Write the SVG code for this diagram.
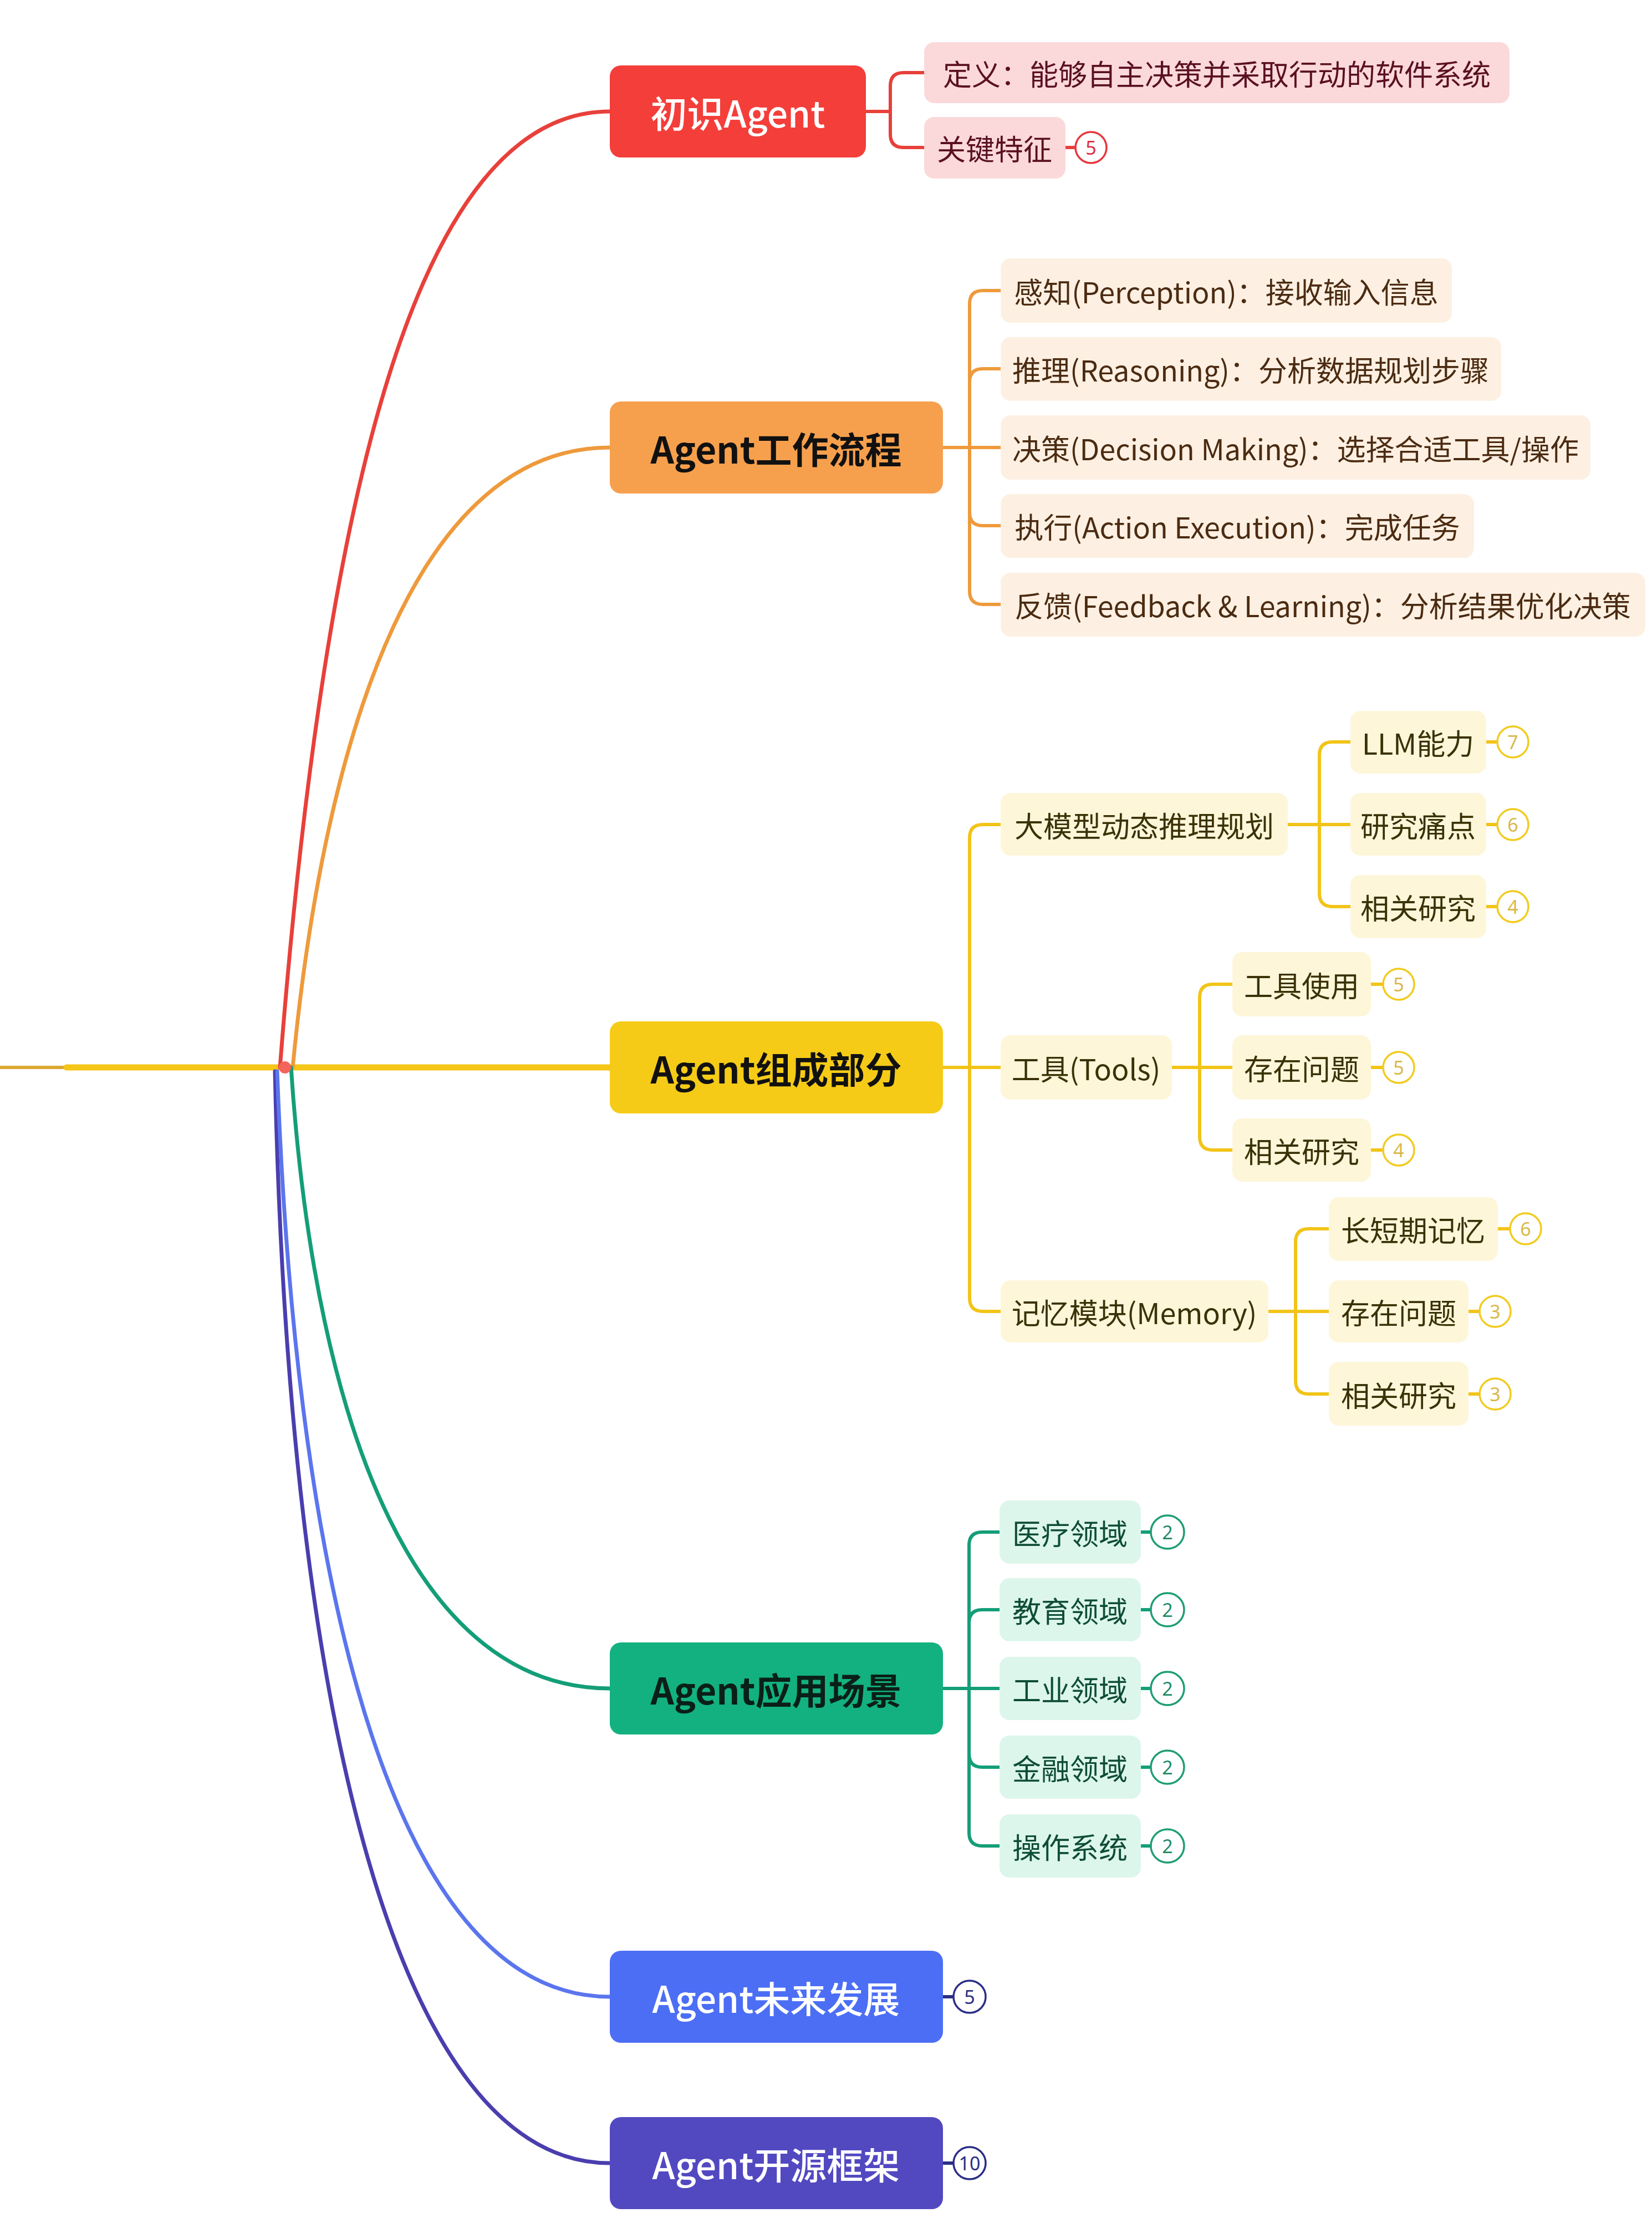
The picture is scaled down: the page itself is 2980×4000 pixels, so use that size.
<svg xmlns="http://www.w3.org/2000/svg" width="2980" height="4000" viewBox="0 0 2980 4000">
<style>
text { font-family: "Noto Sans CJK SC", "Noto Sans", sans-serif; dominant-baseline: central; text-anchor: middle; }
.mt { font-size: 66px; font-weight: 500; }
.mtd { font-weight: 700; }
.ct { font-size: 52px; }
.bt { font-size: 34px; font-family: "Noto Sans", "Liberation Sans", sans-serif; }
.badge { fill: #ffffff; stroke-width: 3.5; }
.r .cb { fill: #FBD9DA; } .r .ct { fill: #5A1020; }
.o .cb { fill: #FDF0E2; } .o .ct { fill: #4B2B12; }
.y .cb { fill: #FEF6D9; } .y .ct { fill: #3A3206; }
.g .cb { fill: #DDF6EB; } .g .ct { fill: #0E4D36; }
.r .badge { stroke: #E8363C; } .r .bt { fill: #D8303A; }
.y .badge { stroke: #F2CB20; } .y .bt { fill: #D9B84A; }
.g .badge { stroke: #1E9E74; } .g .bt { fill: #1E8A66; }
.b .badge { stroke: #2B2E86; } .b .bt { fill: #2B2E86; }
.lr { stroke: #E8403A; } .lo { stroke: #EE9A3C; } .ly { stroke: #F2C418; } .lg { stroke: #149E78; } .lb { stroke: #2B2E86; }
</style>

<g id="connectors" fill="none" stroke-width="6" stroke-linecap="round" stroke-linejoin="round">
  <path d="M0,1925 H120" stroke="#D9A830" stroke-width="6"/>
  <path d="M120,1925 H1100" stroke="#F5C518" stroke-width="11"/>
  <path d="M505,1925 C585,900 750,201 1100,201" stroke="#E8403A" stroke-width="7"/>
  <path d="M528,1925 C588,1300 760,807 1100,807" stroke="#EE9A3C" stroke-width="7"/>
  <path d="M525,1925 C570,2600 760,3045 1100,3045" stroke="#149E78" stroke-width="7"/>
  <path d="M496,1932 C520,3100 720,3901 1100,3901" stroke="#4A3EAE" stroke-width="7"/>
  <path d="M500,1932 C535,2900 720,3601 1100,3601" stroke="#5B75EE" stroke-width="7"/>
  <circle cx="514" cy="1925" r="11" fill="#F5645A" stroke="none"/>

  <g class="lr">
    <path d="M1562,201 H1606 V155 Q1606,131 1630,131 H1667"/>
    <path d="M1562,201 H1606 V242 Q1606,266 1630,266 H1667"/>
    <path d="M1922,266 H1940"/>
  </g>
  <g class="lo">
    <path d="M1701,807 H1749 V548 Q1749,524 1773,524 H1805"/>
    <path d="M1701,807 H1749 V689 Q1749,665 1773,665 H1805"/>
    <path d="M1701,807 H1805"/>
    <path d="M1701,807 H1749 V924 Q1749,948 1773,948 H1805"/>
    <path d="M1701,807 H1749 V1066 Q1749,1090 1773,1090 H1805"/>
  </g>
  <g class="ly">
    <path d="M1701,1925 H1749 V1511 Q1749,1487 1773,1487 H1805"/>
    <path d="M1701,1925 H1805"/>
    <path d="M1701,1925 H1749 V2341 Q1749,2365 1773,2365 H1805"/>
    <path d="M2323,1487 H2380 V1362 Q2380,1338 2404,1338 H2436"/>
    <path d="M2323,1487 H2436"/>
    <path d="M2323,1487 H2380 V1611 Q2380,1635 2404,1635 H2436"/>
    <path d="M2114,1925 H2164 V1799 Q2164,1775 2188,1775 H2223"/>
    <path d="M2114,1925 H2223"/>
    <path d="M2114,1925 H2164 V2050 Q2164,2074 2188,2074 H2223"/>
    <path d="M2288,2365 H2337 V2240 Q2337,2216 2361,2216 H2397"/>
    <path d="M2288,2365 H2397"/>
    <path d="M2288,2365 H2337 V2490 Q2337,2514 2361,2514 H2397"/>
    <path d="M2681,1338 H2701"/>
    <path d="M2681,1487 H2701"/>
    <path d="M2681,1635 H2701"/>
    <path d="M2473,1775 H2495"/>
    <path d="M2473,1925 H2495"/>
    <path d="M2473,2074 H2495"/>
    <path d="M2702,2216 H2724"/>
    <path d="M2649,2365 H2669"/>
    <path d="M2649,2514 H2669"/>
  </g>
  <g class="lg">
    <path d="M1701,3045 H1748 V2787 Q1748,2763 1772,2763 H1803"/>
    <path d="M1701,3045 H1748 V2927 Q1748,2903 1772,2903 H1803"/>
    <path d="M1701,3045 H1803"/>
    <path d="M1701,3045 H1748 V3163 Q1748,3187 1772,3187 H1803"/>
    <path d="M1701,3045 H1748 V3305 Q1748,3329 1772,3329 H1803"/>
    <path d="M2058,2763 H2076"/>
    <path d="M2058,2903 H2076"/>
    <path d="M2058,3045 H2076"/>
    <path d="M2058,3187 H2076"/>
    <path d="M2058,3329 H2076"/>
  </g>
  <g class="lb">
    <path d="M1701,3601 H1720"/>
    <path d="M1701,3901 H1720"/>
  </g>
</g>

<g id="n-intro"><rect x="1100" y="118" width="462" height="166" rx="20" fill="#F43E3A"/><text class="mt" x="1331" y="201" fill="#ffffff">初识Agent</text></g>
<g id="n-flow"><rect x="1100" y="724" width="601" height="166" rx="20" fill="#F6A04D"/><text class="mt mtd" x="1400" y="807" fill="#111111">Agent工作流程</text></g>
<g id="n-parts"><rect x="1100" y="1842" width="601" height="166" rx="20" fill="#F5CB17"/><text class="mt mtd" x="1400" y="1925" fill="#111111">Agent组成部分</text></g>
<g id="n-apps"><rect x="1100" y="2962" width="601" height="166" rx="20" fill="#13B17F"/><text class="mt mtd" x="1400" y="3045" fill="#0A1F17">Agent应用场景</text></g>
<g id="n-future"><rect x="1100" y="3518" width="601" height="166" rx="20" fill="#4C6EF5"/><text class="mt" x="1400" y="3601" fill="#ffffff">Agent未来发展</text></g>
<g id="n-oss"><rect x="1100" y="3818" width="601" height="166" rx="20" fill="#5249C1"/><text class="mt" x="1400" y="3901" fill="#ffffff">Agent开源框架</text></g>

<g class="r">
  <g id="n-def"><rect class="cb" x="1667" y="76" width="1056" height="110" rx="18"/><text class="ct" x="2195" y="131">定义：能够自主决策并采取行动的软件系统</text></g>
  <g id="n-key"><rect class="cb" x="1667" y="211" width="255" height="111" rx="18"/><text class="ct" x="1794" y="266">关键特征</text>
    <circle class="badge" cx="1968" cy="266" r="28"/><text class="bt" x="1968" y="266">5</text></g>
</g>

<g class="o">
  <g id="n-perc"><rect class="cb" x="1805" y="466" width="814" height="116" rx="18"/><text class="ct" x="2212" y="524">感知(Perception)：接收输入信息</text></g>
  <g id="n-reas"><rect class="cb" x="1805" y="608" width="903" height="115" rx="18"/><text class="ct" x="2256" y="665">推理(Reasoning)：分析数据规划步骤</text></g>
  <g id="n-dec"><rect class="cb" x="1805" y="749" width="1064" height="116" rx="18"/><text class="ct" x="2337" y="807">决策(Decision Making)：选择合适工具/操作</text></g>
  <g id="n-act"><rect class="cb" x="1805" y="891" width="854" height="115" rx="18"/><text class="ct" x="2232" y="948">执行(Action Execution)：完成任务</text></g>
  <g id="n-fb"><rect class="cb" x="1805" y="1033" width="1163" height="115" rx="18"/><text class="ct" x="2386" y="1090">反馈(Feedback &amp; Learning)：分析结果优化决策</text></g>
</g>

<g class="y">
  <g id="n-llmplan"><rect class="cb" x="1805" y="1430" width="518" height="113" rx="18"/><text class="ct" x="2064" y="1487">大模型动态推理规划</text></g>
  <g id="n-tools"><rect class="cb" x="1805" y="1867" width="309" height="116" rx="18"/><text class="ct" x="1959" y="1925">工具(Tools)</text></g>
  <g id="n-mem"><rect class="cb" x="1805" y="2309" width="483" height="112" rx="18"/><text class="ct" x="2046" y="2365">记忆模块(Memory)</text></g>

  <g id="n-llm"><rect class="cb" x="2436" y="1282" width="245" height="113" rx="18"/><text class="ct" x="2558" y="1338">LLM能力</text>
    <circle class="badge" cx="2729" cy="1338" r="28"/><text class="bt" x="2729" y="1338">7</text></g>
  <g id="n-pain"><rect class="cb" x="2436" y="1430" width="245" height="113" rx="18"/><text class="ct" x="2558" y="1487">研究痛点</text>
    <circle class="badge" cx="2729" cy="1487" r="28"/><text class="bt" x="2729" y="1487">6</text></g>
  <g id="n-rel1"><rect class="cb" x="2436" y="1578" width="245" height="114" rx="18"/><text class="ct" x="2558" y="1635">相关研究</text>
    <circle class="badge" cx="2729" cy="1635" r="28"/><text class="bt" x="2729" y="1635">4</text></g>

  <g id="n-tuse"><rect class="cb" x="2223" y="1717" width="250" height="116" rx="18"/><text class="ct" x="2348" y="1775">工具使用</text>
    <circle class="badge" cx="2523" cy="1775" r="28"/><text class="bt" x="2523" y="1775">5</text></g>
  <g id="n-tprob"><rect class="cb" x="2223" y="1867" width="250" height="116" rx="18"/><text class="ct" x="2348" y="1925">存在问题</text>
    <circle class="badge" cx="2523" cy="1925" r="28"/><text class="bt" x="2523" y="1925">5</text></g>
  <g id="n-trel"><rect class="cb" x="2223" y="2017" width="250" height="114" rx="18"/><text class="ct" x="2348" y="2074">相关研究</text>
    <circle class="badge" cx="2523" cy="2074" r="28"/><text class="bt" x="2523" y="2074">4</text></g>

  <g id="n-lsm"><rect class="cb" x="2397" y="2159" width="305" height="115" rx="18"/><text class="ct" x="2549" y="2216">长短期记忆</text>
    <circle class="badge" cx="2752" cy="2216" r="28"/><text class="bt" x="2752" y="2216">6</text></g>
  <g id="n-mprob"><rect class="cb" x="2397" y="2309" width="252" height="112" rx="18"/><text class="ct" x="2523" y="2365">存在问题</text>
    <circle class="badge" cx="2697" cy="2365" r="28"/><text class="bt" x="2697" y="2365">3</text></g>
  <g id="n-mrel"><rect class="cb" x="2397" y="2456" width="252" height="115" rx="18"/><text class="ct" x="2523" y="2514">相关研究</text>
    <circle class="badge" cx="2697" cy="2514" r="28"/><text class="bt" x="2697" y="2514">3</text></g>
</g>

<g class="g">
  <g id="n-med"><rect class="cb" x="1803" y="2706" width="255" height="114" rx="18"/><text class="ct" x="1930" y="2763">医疗领域</text>
    <circle class="badge" cx="2106" cy="2763" r="30"/><text class="bt" x="2106" y="2763">2</text></g>
  <g id="n-edu"><rect class="cb" x="1803" y="2846" width="255" height="114" rx="18"/><text class="ct" x="1930" y="2903">教育领域</text>
    <circle class="badge" cx="2106" cy="2903" r="30"/><text class="bt" x="2106" y="2903">2</text></g>
  <g id="n-ind"><rect class="cb" x="1803" y="2988" width="255" height="114" rx="18"/><text class="ct" x="1930" y="3045">工业领域</text>
    <circle class="badge" cx="2106" cy="3045" r="30"/><text class="bt" x="2106" y="3045">2</text></g>
  <g id="n-fin"><rect class="cb" x="1803" y="3130" width="255" height="114" rx="18"/><text class="ct" x="1930" y="3187">金融领域</text>
    <circle class="badge" cx="2106" cy="3187" r="30"/><text class="bt" x="2106" y="3187">2</text></g>
  <g id="n-os"><rect class="cb" x="1803" y="3272" width="255" height="114" rx="18"/><text class="ct" x="1930" y="3329">操作系统</text>
    <circle class="badge" cx="2106" cy="3329" r="30"/><text class="bt" x="2106" y="3329">2</text></g>
</g>

<g class="b">
  <g id="b-future"><circle class="badge" cx="1749" cy="3601" r="29"/><text class="bt" x="1749" y="3601">5</text></g>
  <g id="b-oss"><circle class="badge" cx="1749" cy="3901" r="29"/><text class="bt" x="1749" y="3901">10</text></g>
</g>
</svg>
